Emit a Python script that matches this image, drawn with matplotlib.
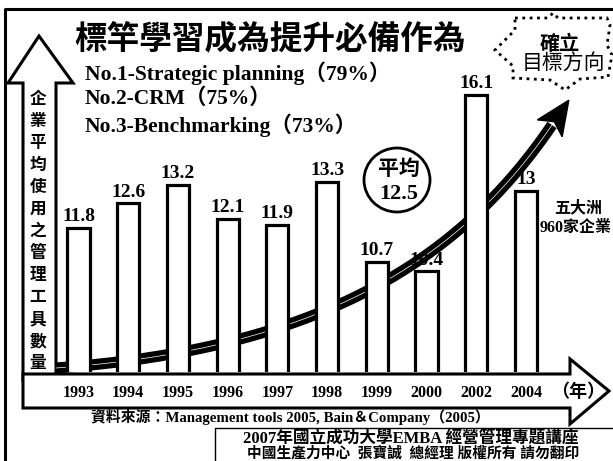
import matplotlib
matplotlib.use('Agg')
import matplotlib.pyplot as plt
from matplotlib.patches import Polygon, Ellipse, Rectangle
import numpy as np

years = ['1993', '1994', '1995', '1996', '1997', '1998', '1999', '2000', '2002', '2004']
tools_used = [11.8, 12.6, 13.2, 12.1, 11.9, 13.3, 10.7, 10.4, 16.1, 13]
average = 12.5
top_tools = ['No.1-Strategic planning（79%）',
             'No.2-CRM（75%）',
             'No.3-Benchmarking（73%）']

title = '標竿學習成為提升必備作為'
y_title = '企業平均使用之管理工具數量'
x_unit = '（年）'
goal = ['確立', '目標方向']
sample = ['五大洲', '960家企業']
source = '資料來源：Management tools 2005, Bain＆Company（2005）'
footer = ['2007年國立成功大學EMBA 經營管理專題講座',
          '中國生產力中心  張寶誠  總經理 版權所有 請勿翻印']

CJK = 'Noto Sans CJK TC'
MIX = ['Liberation Serif', 'Noto Sans CJK TC']

W, H = 613, 461
fig = plt.figure(figsize=(W / 100, H / 100), dpi=100)

# layer in pixel units for the hand drawn parts (arrows, frame, boxes)
deco = fig.add_axes([0, 0, 1, 1], zorder=0)
deco.set_xlim(0, W)
deco.set_ylim(H, 0)
deco.axis('off')

deco.plot([5, 5, W + 5], [H + 5, 9, 9], color='black', lw=2.2, clip_on=False)

# vertical arrow with the y title inside
up = [(23, 380), (23, 83), (8, 83), (39, 36), (73, 83), (56, 83), (56, 380)]
deco.add_patch(Polygon(up, closed=True, facecolor='white', edgecolor='black', lw=2.2))
for i, ch in enumerate(y_title):
    deco.text(38, 99 + i * 22, ch, ha='center', va='center', fontsize=12,
              fontweight='bold', family=CJK)

# rising curve behind the bars
t = np.linspace(0, 1, 200)[:, None]
p0, p1, p2, p3 = map(np.array, [(56, 368), (300, 350), (450, 275), (552, 125)])
curve = (1 - t) ** 3 * p0 + 3 * (1 - t) ** 2 * t * p1 + 3 * (1 - t) * t ** 2 * p2 + t ** 3 * p3
deco.plot(curve[:, 0], curve[:, 1], color='black', lw=8, solid_capstyle='butt')
deco.plot(curve[:, 0], curve[:, 1], color='white', lw=0.5)
d = (p3 - p2) / np.hypot(*(p3 - p2))
n = np.array([-d[1], d[0]])
base = p3 - d * 4
tip = p3 + d * 30
head = [tuple(base + n * 15), tuple(tip), tuple(base - n * 15), tuple(base + d * 8)]
deco.add_patch(Polygon(head, closed=True, facecolor='black', edgecolor='black', lw=1))

# horizontal arrow (time axis)
right = [(23, 374), (570, 374), (570, 359), (609, 391), (570, 424), (570, 408), (23, 408)]
deco.add_patch(Polygon(right, closed=True, facecolor='white', edgecolor='black', lw=2.2))
deco.text(578, 391, x_unit, ha='center', va='center', fontsize=13, fontweight='bold', family=CJK)

# title and top three tools
deco.text(270, 39, title, ha='center', va='center', fontsize=23.5, family=CJK, fontweight='bold')
for i, line in enumerate(top_tools):
    deco.text(85, 73 + i * 26, line, ha='left', va='center', fontsize=15.5,
              fontweight='bold', family=MIX)

# dotted burst box
burst = [(515, 18), (548, 18), (553, 13), (558, 18), (607, 18), (610, 25), (607, 45),
         (612, 55), (608, 77), (580, 79), (565, 90), (550, 80), (513, 78), (513, 66),
         (495, 50), (515, 30)]
deco.add_patch(Polygon(burst, closed=True, fill=False, edgecolor='black', lw=2, ls=':'))
deco.text(560, 43, goal[0], ha='center', va='center', fontsize=14.5, fontweight='bold', family=CJK)
deco.text(563, 63, goal[1], ha='center', va='center', fontsize=15, family=CJK)

# average ellipse
deco.add_patch(Ellipse((397, 180), 66, 64, fill=False, edgecolor='black', lw=2))
deco.text(399, 168, '平均', ha='center', va='center', fontsize=15, fontweight='bold', family=CJK)
deco.text(399, 194, f'{average:g}', ha='center', va='center', fontsize=16,
          fontweight='bold', family=MIX)

deco.text(578, 207, sample[0], ha='center', va='center', fontsize=11.5, fontweight='bold', family=CJK)
deco.text(576, 228, sample[1], ha='center', va='center', fontsize=11.5, fontweight='bold', family=MIX)

deco.text(290, 417, source, ha='center', va='center', fontsize=10.7, fontweight='bold', family=MIX)
deco.add_patch(Rectangle((215, 428), 410, 50, fill=False, edgecolor='black', lw=1))
deco.text(411, 438, footer[0], ha='center', va='center', fontsize=12, fontweight='bold', family=MIX)
deco.text(413, 453, footer[1], ha='center', va='center', fontsize=10.6, fontweight='bold', family=MIX)

# bars
ax = fig.add_axes([40 / W, (H - 372) / H, 560 / W, 312 / H], zorder=1)
ax.patch.set_alpha(0)
x = np.arange(len(years))
ax.bar(x, tools_used, width=0.445, color='white', edgecolor='black', linewidth=2.3)
for xi, v in zip(x, tools_used):
    ax.annotate(f'{v:g}', (xi, v), xytext=(0, 2), textcoords='offset points',
                ha='center', va='bottom', fontsize=14, fontweight='bold',
                family='Liberation Serif')
ax.set_xlim(-0.774, 10.489)
ax.set_ylim(7.15, 17.23)
ax.set_xticks(x)
ax.set_xticklabels(years, fontsize=11.5, fontweight='bold', family='Liberation Serif')
ax.tick_params(axis='x', length=0, pad=9)
ax.set_yticks([])
for s in ax.spines.values():
    s.set_visible(False)

plt.savefig('out.png', dpi=100)
